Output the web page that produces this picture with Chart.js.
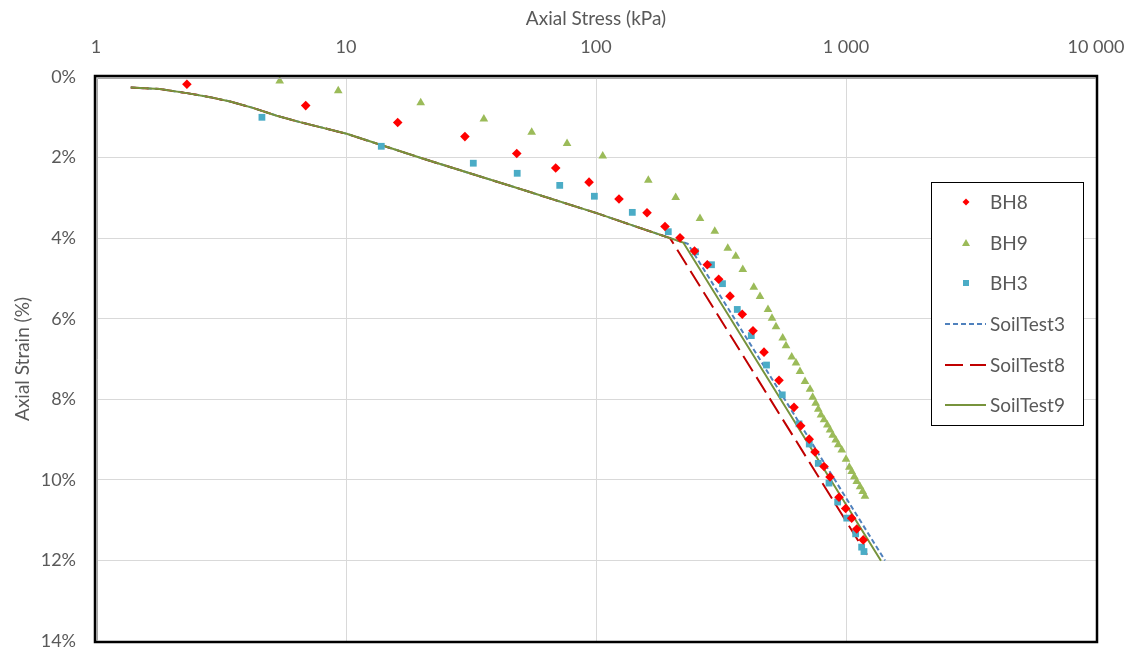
<!DOCTYPE html>
<html>
<head>
<meta charset="utf-8">
<script src="https://cdn.jsdelivr.net/npm/chart.js@4.4.1/dist/chart.umd.min.js"></script>
<style>
  html, body { margin: 0; padding: 0; background: #fff; }
  #wrap { width: 1131px; height: 651px; position: relative; }
</style>
</head>
<body>
<div id="wrap"><canvas id="c" width="1131" height="651"></canvas></div>
<script>
// ---- Data ----
const xTickValues = [1, 10, 100, 1000, 10000];
const yTickStep = 2;

const bh8Stress = [2.31, 6.90, 16.1, 29.9, 48.2, 69.0, 93.8, 123.6, 160, 188.8, 216.8, 247.7, 278.7, 309.6, 343.6, 384.6, 424.6, 469.9, 539.5, 619.4, 658.8, 712.6, 751.6, 816.6, 863, 937.5, 997, 1054, 1104, 1172];
const bh8Strain = [0.18, 0.71, 1.13, 1.48, 1.90, 2.26, 2.61, 3.03, 3.37, 3.71, 3.99, 4.32, 4.66, 5.02, 5.44, 5.89, 6.30, 6.83, 7.53, 8.20, 8.66, 8.99, 9.31, 9.67, 9.93, 10.43, 10.71, 10.95, 11.22, 11.49];

const bh9Stress = [5.43, 9.31, 19.9, 35.6, 55.3, 76.6, 106.4, 161.9, 208.3, 260.6, 298.6, 336.6, 362.3, 386.5, 427.7, 452.9, 487.5, 505.8, 524.8, 558.2, 575.4, 606.5, 631, 654.6, 685.5, 717.8, 735.7, 756.3, 774.6, 794.3, 816.6, 841.9, 863, 884.9, 909.6, 931.1, 961.6, 1000, 1031, 1054, 1080, 1104, 1138, 1166, 1191];
const bh9Strain = [0.10, 0.34, 0.64, 1.04, 1.37, 1.65, 1.96, 2.56, 2.99, 3.51, 3.83, 4.25, 4.45, 4.78, 5.22, 5.45, 5.77, 5.99, 6.20, 6.48, 6.67, 6.95, 7.10, 7.31, 7.56, 7.75, 7.95, 8.10, 8.25, 8.39, 8.51, 8.64, 8.76, 8.89, 9.01, 9.13, 9.26, 9.49, 9.69, 9.79, 9.92, 10.04, 10.17, 10.29, 10.41];

const bh3Stress = [4.61, 13.84, 32.3, 48.4, 71.6, 98.5, 139.7, 194.6, 250, 289.7, 320.6, 367.4, 418, 480.9, 556, 648.6, 713, 774.6, 855, 926, 1007, 1093, 1155, 1180];
const bh3Strain = [1.0, 1.72, 2.14, 2.39, 2.69, 2.96, 3.36, 3.84, 4.34, 4.66, 5.13, 5.77, 6.42, 7.15, 7.89, 8.61, 9.11, 9.59, 10.08, 10.55, 10.95, 11.34, 11.67, 11.78];

// shared initial curve of the three SoilTest models
const sharedStress = [1.377, 1.80, 2.31, 2.86, 3.44, 4.21, 5.28, 6.55, 10.07, 20.4, 45.3, 100.6, 197.7];
const sharedStrain = [0.26, 0.30, 0.40, 0.50, 0.61, 0.76, 0.96, 1.12, 1.41, 2.03, 2.70, 3.38, 4.0];

const soilTest3Stress = [233, 1432];
const soilTest3Strain = [4.14, 12.0];
const soilTest8Stress = [1213];
const soilTest8Strain = [11.86];
const soilTest9Stress = [223.4, 1380];
const soilTest9Strain = [4.11, 12.01];

// ---- helpers ----
function pts(xs, ys) { return xs.map((x, i) => ({ x: x, y: ys[i] })); }
const TEXT = '#595959';
const FONT = 'Lato, "Noto Sans", sans-serif';

const legendItems = [
  { label: 'BH8', type: 'point', shape: 'diamond', color: '#FF0000' },
  { label: 'BH9', type: 'point', shape: 'triangle', color: '#9BBB59' },
  { label: 'BH3', type: 'point', shape: 'square', color: '#4BACC6' },
  { label: 'SoilTest3', type: 'line', dash: [5, 3], color: '#4F81BD' },
  { label: 'SoilTest8', type: 'line', dash: [18, 7], color: '#C00000' },
  { label: 'SoilTest9', type: 'line', dash: [], color: '#77933C' }
];

const framePlugin = {
  id: 'frame',
  afterDatasetsDraw(chart) {
    const { ctx, chartArea: a } = chart;
    ctx.save();
    ctx.strokeStyle = '#000';
    ctx.lineWidth = 2.5;
    ctx.strokeRect(a.left - 1, a.top - 1, a.right - a.left + 2, a.bottom - a.top + 2);
    ctx.strokeStyle = '#a6a6a6';
    ctx.lineWidth = 1;
    ctx.beginPath();
    ctx.moveTo(a.left + 1.5, a.bottom);
    ctx.lineTo(a.left + 1.5, a.top + 1.5);
    ctx.lineTo(a.right, a.top + 1.5);
    ctx.stroke();
    ctx.restore();
  },
  afterDraw(chart) {
    const { ctx } = chart;
    ctx.save();
    const bx = 931.5, by = 182.5, bw = 152, bh = 243;
    ctx.fillStyle = '#fff';
    ctx.fillRect(bx, by, bw, bh);
    ctx.strokeStyle = '#000';
    ctx.lineWidth = 1;
    ctx.strokeRect(bx, by, bw, bh);
    const rowY = [202, 243, 283, 324, 365, 405];
    ctx.font = '19px ' + FONT;
    ctx.textBaseline = 'middle';
    ctx.textAlign = 'left';
    legendItems.forEach((it, i) => {
      const y = rowY[i];
      if (it.type === 'point') {
        ctx.fillStyle = it.color;
        const cx = 966;
        ctx.beginPath();
        if (it.shape === 'diamond') {
          ctx.moveTo(cx, y - 3.5); ctx.lineTo(cx + 3.5, y); ctx.lineTo(cx, y + 3.5); ctx.lineTo(cx - 3.5, y);
        } else if (it.shape === 'triangle') {
          ctx.moveTo(cx, y - 4); ctx.lineTo(cx + 4, y + 3); ctx.lineTo(cx - 4, y + 3);
        } else {
          ctx.rect(cx - 3, y - 3, 6, 6);
        }
        ctx.closePath();
        ctx.fill();
      } else {
        ctx.strokeStyle = it.color;
        ctx.lineWidth = 2;
        ctx.setLineDash(it.dash);
        ctx.beginPath();
        ctx.moveTo(945, y);
        ctx.lineTo(986, y);
        ctx.stroke();
        ctx.setLineDash([]);
      }
      ctx.fillStyle = TEXT;
      ctx.fillText(it.label, 990, y + 1);
    });
    ctx.restore();
  }
};

const lineDefaults = { showLine: true, pointRadius: 0, pointHoverRadius: 0, borderWidth: 2, tension: 0, fill: false };

function zeroPad(s) { s.paddingTop = 0; s.paddingBottom = 0; s.paddingLeft = 0; s.paddingRight = 0; }

new Chart(document.getElementById('c'), {
  type: 'scatter',
  data: {
    datasets: [
      { label: 'BH8', data: pts(bh8Stress, bh8Strain), pointStyle: 'rectRot', pointRadius: 4.8, backgroundColor: '#FF0000', borderColor: '#FF0000', borderWidth: 0, order: 0 },
      { label: 'BH9', data: pts(bh9Stress, bh9Strain), pointStyle: 'triangle', pointRadius: 5, backgroundColor: '#9BBB59', borderColor: '#9BBB59', borderWidth: 0, order: 0 },
      { label: 'BH3', data: pts(bh3Stress, bh3Strain), pointStyle: 'rect', pointRadius: 4.8, backgroundColor: '#4BACC6', borderColor: '#4BACC6', borderWidth: 0, order: 0 },
      Object.assign({ label: 'SoilTest3', data: pts(sharedStress.concat(soilTest3Stress), sharedStrain.concat(soilTest3Strain)), borderColor: '#4F81BD', borderDash: [5, 3], order: 3 }, lineDefaults),
      Object.assign({ label: 'SoilTest8', data: pts(sharedStress.concat(soilTest8Stress), sharedStrain.concat(soilTest8Strain)), borderColor: '#C00000', borderDash: [18, 7], order: 2 }, lineDefaults),
      Object.assign({ label: 'SoilTest9', data: pts(sharedStress.concat(soilTest9Stress), sharedStrain.concat(soilTest9Strain)), borderColor: '#77933C', borderDash: [], order: 1 }, lineDefaults)
    ]
  },
  options: {
    responsive: false,
    animation: false,
    devicePixelRatio: 1,
    layout: { padding: { left: 0, top: 0, right: 35, bottom: 10 } },
    plugins: { legend: { display: false }, tooltip: { enabled: false } },
    scales: {
      x: {
        type: 'logarithmic',
        position: 'top',
        min: 1,
        max: 10000,
        afterBuildTicks: (s) => { s.ticks = xTickValues.map(v => ({ value: v })); },
        afterFit: (s) => { s.height = 77; zeroPad(s); },
        ticks: {
          color: TEXT,
          font: { family: FONT, size: 18 },
          padding: 19,
          maxRotation: 0,
          autoSkip: false,
          callback: (v) => String(v).replace(/\B(?=(\d{3})+(?!\d))/g, ' ')
        },
        grid: { color: '#d9d9d9', lineWidth: 1, drawTicks: false },
        border: { display: false },
        title: { display: true, text: 'Axial Stress (kPa)', color: TEXT, font: { family: FONT, size: 19 }, padding: { top: 7, bottom: 0 } }
      },
      y: {
        type: 'linear',
        reverse: true,
        min: 0,
        max: 14,
        afterFit: (s) => { s.width = 96; zeroPad(s); },
        ticks: {
          stepSize: yTickStep,
          color: TEXT,
          font: { family: FONT, size: 18 },
          padding: 20,
          callback: (v) => v + '%'
        },
        grid: { color: '#d9d9d9', lineWidth: 1, drawTicks: false },
        border: { display: false },
        title: { display: true, text: 'Axial Strain (%)', color: TEXT, font: { family: FONT, size: 19 }, padding: { top: 11, bottom: 0 } }
      }
    }
  },
  plugins: [framePlugin]
});
</script>
</body>
</html>
